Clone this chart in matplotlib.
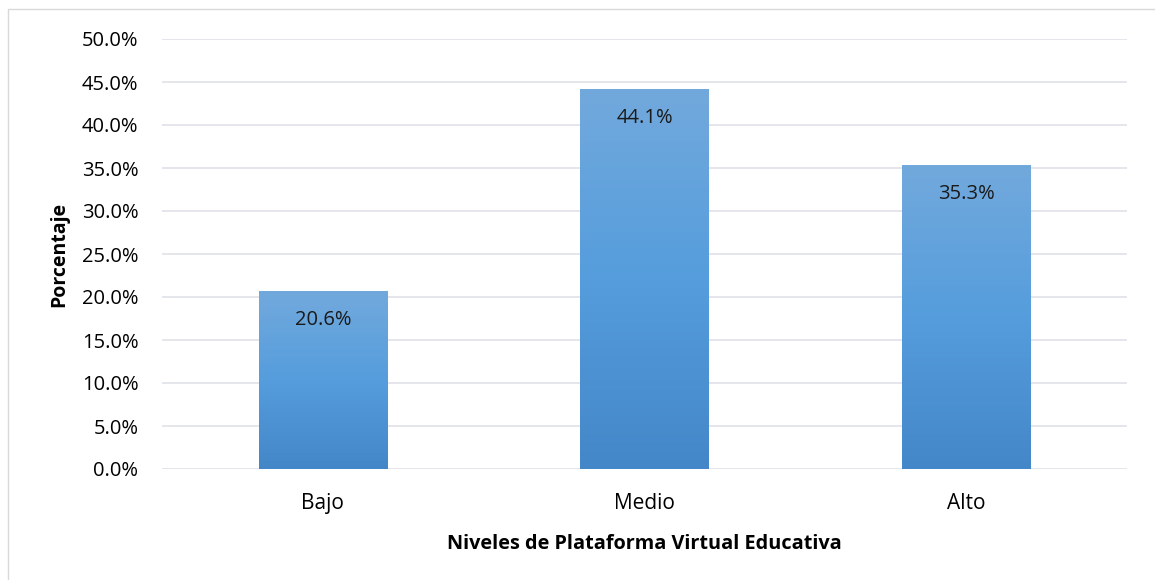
import numpy as np
import matplotlib.pyplot as plt
from matplotlib.colors import LinearSegmentedColormap
from matplotlib.patches import Rectangle

categories = ['Bajo', 'Medio', 'Alto']
values = [20.6, 44.1, 35.3]
yticks = [0, 5, 10, 15, 20, 25, 30, 35, 40, 45, 50]

plt.rcParams['font.family'] = ['Open Sans', 'DejaVu Sans']

fig = plt.figure(figsize=(11.55, 5.8), dpi=100)
ax = fig.add_axes([162 / 1155, 1 - 469 / 580, (1127 - 162) / 1155, (469 - 39) / 580])

# outer chart border
fig.patches.append(Rectangle((8 / 1155, -0.1), 1.2, 1 - 9 / 580 + 0.1,
                             transform=fig.transFigure, fill=False,
                             edgecolor='#d9d9d9', linewidth=1))

cmap = LinearSegmentedColormap.from_list('bar', ['#4487c8', '#559ddd', '#72a9dc'])
grad = np.linspace(0, 1, 256).reshape(-1, 1)
x = np.arange(len(categories))
width = 0.4
for xi, v in zip(x, values):
    ax.imshow(grad, cmap=cmap, origin='lower', aspect='auto',
              extent=(xi - width / 2, xi + width / 2, 0, v), zorder=2)
    ax.text(xi, v - 3.3, '{:.1f}%'.format(v), ha='center', va='center',
            fontsize=14.5, color='#1a1a1a', zorder=3)

ax.set_xlim(-0.5, len(categories) - 0.5)
ax.set_ylim(0, 50)
ax.set_xticks(x)
ax.set_xticklabels(categories, fontsize=15)
ax.set_yticks(yticks)
ax.set_yticklabels(['{:.1f}%'.format(t) for t in yticks], fontsize=14.5)
ax.tick_params(length=0)
ax.tick_params(axis='y', pad=17)
ax.tick_params(axis='x', pad=17)
ax.grid(axis='y', color='#dfe2e7', linewidth=1.2, zorder=0)
for s in ax.spines.values():
    s.set_visible(False)
ax.set_axisbelow(True)

ax.set_ylabel('Porcentaje', fontsize=14, fontweight='bold', labelpad=9)
ax.set_xlabel('Niveles de Plataforma Virtual Educativa', fontsize=14.3,
              fontweight='bold', labelpad=15)

fig.savefig('out.png', dpi=100)
